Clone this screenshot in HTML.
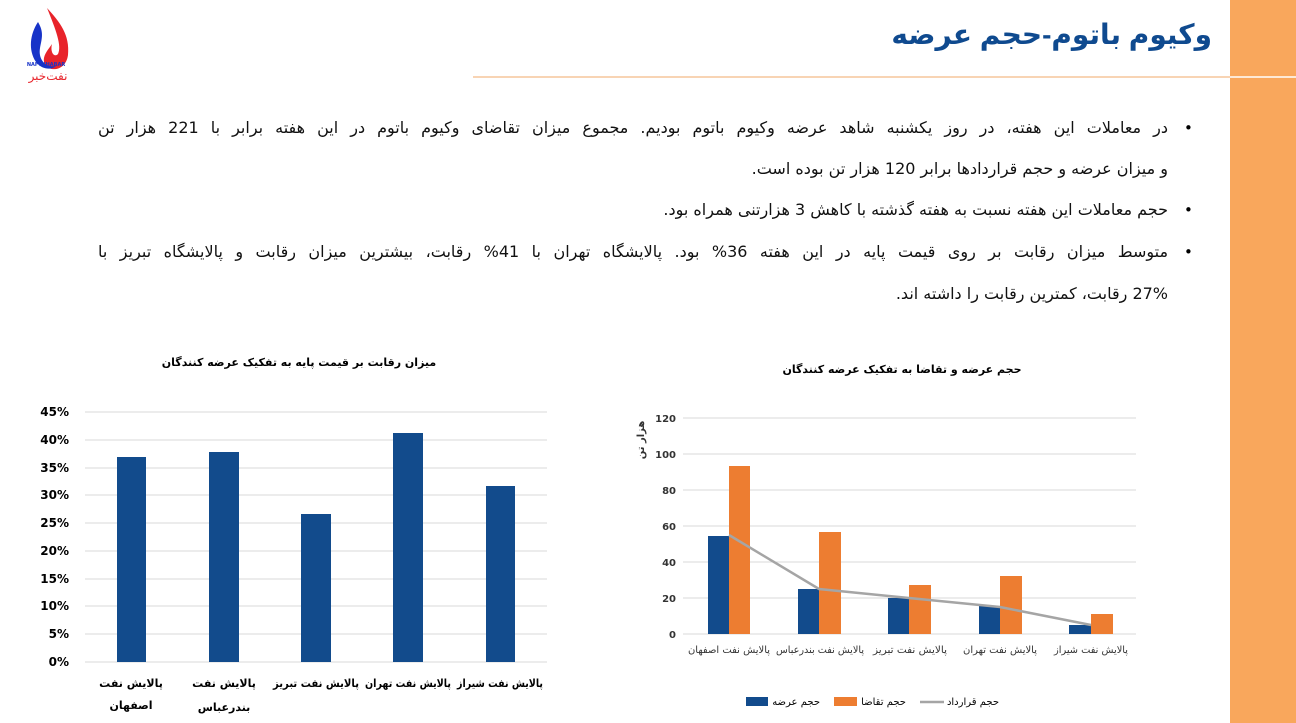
<!DOCTYPE html>
<html><head><meta charset="utf-8"><style>
body{margin:0;width:1296px;height:723px;overflow:hidden;background:#fff;font-family:"DejaVu Sans","Liberation Sans",sans-serif;position:relative}
svg{position:absolute;left:0;top:0}
.t{position:absolute;direction:rtl;white-space:nowrap}
.ln{position:absolute;right:128px;width:1070px;direction:rtl;font-size:16px;color:#111;white-space:nowrap;line-height:20px}
.j{text-align:justify;text-align-last:justify}
.b{position:absolute;left:1184px;font-size:15px;line-height:20px}
</style></head><body>
<svg width="1296" height="723" xmlns="http://www.w3.org/2000/svg" font-family="DejaVu Sans, Liberation Sans, sans-serif">
<rect x="1230" y="0" width="66" height="723" fill="#f9a75c"/>
<line x1="1230" y1="77" x2="1296" y2="77" stroke="#fff" stroke-width="1.5"/>
<line x1="473" y1="77" x2="1230" y2="77" stroke="#f0a868" stroke-width="1"/>
<path d="M47 8 C60 22 70 35 68 55 C66 70 52 72 46 66 C40 58 48 50 52 44 C50 52 54 58 58 54 C62 46 56 30 47 8Z" fill="#e8232a"/>
<path d="M38 22 C30 34 28 50 36 62 C42 70 52 70 56 66 C46 68 38 60 40 48 C42 38 44 32 38 22Z" fill="#1733c8"/>
<text x="46" y="66" font-size="5" font-weight="bold" fill="#1733c8" text-anchor="middle">NAFTKHABAR</text>
<text x="48" y="80" font-size="12" fill="#e8232a" text-anchor="middle">نفت‌خبر</text>
<text x="299" y="366" font-size="11" font-weight="bold" text-anchor="middle">میزان رقابت بر قیمت پایه به تفکیک عرضه کنندگان</text>
<g stroke="#d9d9d9" stroke-width="1">
<line x1="85" y1="412" x2="547" y2="412"/><line x1="85" y1="440" x2="547" y2="440"/><line x1="85" y1="468" x2="547" y2="468"/><line x1="85" y1="495" x2="547" y2="495"/><line x1="85" y1="523" x2="547" y2="523"/><line x1="85" y1="551" x2="547" y2="551"/><line x1="85" y1="579" x2="547" y2="579"/><line x1="85" y1="606" x2="547" y2="606"/><line x1="85" y1="634" x2="547" y2="634"/><line x1="85" y1="662" x2="547" y2="662"/>
</g>
<g font-size="12" font-weight="bold" text-anchor="end">
<text x="69" y="416">45%</text><text x="69" y="444">40%</text><text x="69" y="472">35%</text><text x="69" y="499">30%</text><text x="69" y="527">25%</text><text x="69" y="555">20%</text><text x="69" y="583">15%</text><text x="69" y="610">10%</text><text x="69" y="638">5%</text><text x="69" y="666">0%</text>
</g>
<g fill="#124b8c">
<rect x="117" y="457" width="29" height="205"/><rect x="209" y="452" width="30" height="210"/><rect x="301" y="514" width="30" height="148"/><rect x="393" y="433" width="30" height="229"/><rect x="486" y="486" width="29" height="176"/>
</g>
<g font-size="11" font-weight="bold" text-anchor="middle">
<text x="131" y="687">پالایش نفت</text><text x="131" y="709">اصفهان</text>
<text x="224" y="687">پالایش نفت</text><text x="224" y="711">بندرعباس</text>
<text x="316" y="687" textLength="86" lengthAdjust="spacingAndGlyphs">پالایش نفت تبریز</text><text x="408" y="687" textLength="86" lengthAdjust="spacingAndGlyphs">پالایش نفت تهران</text><text x="500" y="687" textLength="86" lengthAdjust="spacingAndGlyphs">پالایش نفت شیراز</text>
</g>
<text x="902" y="373" font-size="11" font-weight="bold" text-anchor="middle">حجم عرضه و تقاضا به تفکیک عرضه کنندگان</text>
<g stroke="#d9d9d9" stroke-width="1">
<line x1="683" y1="418" x2="1136" y2="418"/><line x1="683" y1="454" x2="1136" y2="454"/><line x1="683" y1="490" x2="1136" y2="490"/><line x1="683" y1="526" x2="1136" y2="526"/><line x1="683" y1="562" x2="1136" y2="562"/><line x1="683" y1="598" x2="1136" y2="598"/><line x1="683" y1="634" x2="1136" y2="634"/>
</g>
<g font-size="10" font-weight="bold" text-anchor="end" fill="#333">
<text x="676" y="422">120</text><text x="676" y="458">100</text><text x="676" y="494">80</text><text x="676" y="530">60</text><text x="676" y="566">40</text><text x="676" y="602">20</text><text x="676" y="638">0</text>
</g>
<text transform="translate(644,440) rotate(-90)" font-size="10" font-weight="bold" text-anchor="middle" fill="#333">هزار تن</text>
<g fill="#124b8c"><rect x="708" y="536" width="21" height="98"/><rect x="798" y="589" width="21" height="45"/><rect x="888" y="598" width="21" height="36"/><rect x="979" y="606" width="21" height="28"/><rect x="1069" y="625" width="22" height="9"/></g>
<g fill="#ed7d31"><rect x="729" y="466" width="21" height="168"/><rect x="819" y="532" width="22" height="102"/><rect x="909" y="585" width="22" height="49"/><rect x="1000" y="576" width="22" height="58"/><rect x="1091" y="614" width="22" height="20"/></g>
<polyline points="729,535 819,589 909,598 1000,607 1091,625" fill="none" stroke="#a5a5a5" stroke-width="2.5"/>
<g font-size="10" fill="#333" text-anchor="middle">
<text x="729" y="653" textLength="82" lengthAdjust="spacingAndGlyphs">پالایش نفت اصفهان</text><text x="820" y="653" textLength="88" lengthAdjust="spacingAndGlyphs">پالایش نفت بندرعباس</text><text x="910" y="653" textLength="74" lengthAdjust="spacingAndGlyphs">پالایش نفت تبریز</text><text x="1000" y="653" textLength="74" lengthAdjust="spacingAndGlyphs">پالایش نفت تهران</text><text x="1091" y="653" textLength="74" lengthAdjust="spacingAndGlyphs">پالایش نفت شیراز</text>
</g>
<rect x="746" y="697" width="22" height="9" fill="#124b8c"/><text x="820" y="705" font-size="10" text-anchor="end">حجم عرضه</text>
<rect x="834" y="697" width="23" height="9" fill="#ed7d31"/><text x="906" y="705" font-size="10" text-anchor="end">حجم تقاضا</text>
<line x1="920" y1="702" x2="944" y2="702" stroke="#a5a5a5" stroke-width="2.5"/><text x="999" y="705" font-size="10" text-anchor="end">حجم قرارداد</text>
</svg>
<div class="t" style="right:84px;top:18px;font-size:28px;font-weight:bold;color:#0f4a8f;font-family:'Liberation Sans','DejaVu Sans',sans-serif">وکیوم باتوم-حجم عرضه</div>
<div class="b" style="top:118px">•</div><div class="b" style="top:200px">•</div><div class="b" style="top:242px">•</div>
<div class="ln j" style="top:118px">در معاملات این هفته، در روز یکشنبه شاهد عرضه وکیوم باتوم بودیم. مجموع میزان تقاضای وکیوم باتوم در این هفته برابر با 221 هزار تن</div>
<div class="ln" style="top:159px">و میزان عرضه و حجم قراردادها برابر 120 هزار تن بوده است.</div>
<div class="ln" style="top:200px">حجم معاملات این هفته نسبت به هفته گذشته با کاهش 3 هزارتنی همراه بود.</div>
<div class="ln j" style="top:242px">متوسط میزان رقابت بر روی قیمت پایه در این هفته 36% بود. پالایشگاه تهران با 41% رقابت، بیشترین میزان رقابت و پالایشگاه تبریز با</div>
<div class="ln" style="top:284px">27% رقابت، کمترین رقابت را داشته اند.</div>
</body></html>
